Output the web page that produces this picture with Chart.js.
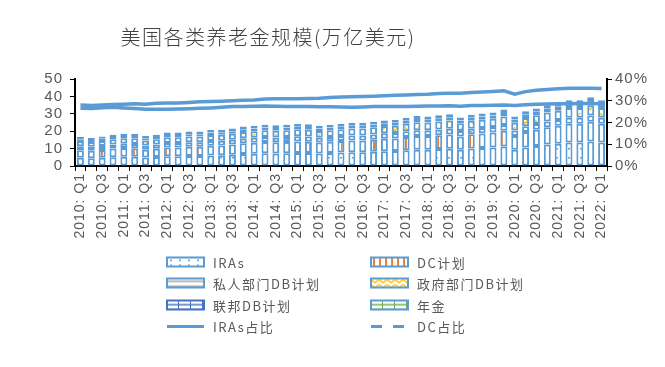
<!DOCTYPE html>
<html>
<head>
<meta charset="utf-8">
<script src="https://cdn.jsdelivr.net/npm/chart.js@4.4.1/dist/chart.umd.min.js"></script>
<style>
  body { margin: 0; background: #fff; }
  #wrap { width: 665px; height: 367px; }
</style>
</head>
<body>
<div id="wrap"><canvas id="pension" width="665" height="367"></canvas></div>
<script>
  // quarters on the x axis (every other one gets a label)
  const quarters = [
    '2010: Q1', '2010: Q2', '2010: Q3', '2010: Q4',
    '2011: Q1', '2011: Q2', '2011: Q3', '2011: Q4',
    '2012: Q1', '2012: Q2', '2012: Q3', '2012: Q4',
    '2013: Q1', '2013: Q2', '2013: Q3', '2013: Q4',
    '2014: Q1', '2014: Q2', '2014: Q3', '2014: Q4',
    '2015: Q1', '2015: Q2', '2015: Q3', '2015: Q4',
    '2016: Q1', '2016: Q2', '2016: Q3', '2016: Q4',
    '2017: Q1', '2017: Q2', '2017: Q3', '2017: Q4',
    '2018: Q1', '2018: Q2', '2018: Q3', '2018: Q4',
    '2019: Q1', '2019: Q2', '2019: Q3', '2019: Q4',
    '2020: Q1', '2020: Q2', '2020: Q3', '2020: Q4',
    '2021: Q1', '2021: Q2', '2021: Q3', '2021: Q4',
    '2022: Q1'
  ];

  // trillion USD, stacked bottom to top
  const iras = [4.7, 4.5, 4.7, 5.1, 5.3, 5.3, 4.9, 5.2, 5.6, 5.6, 5.8, 5.8, 6.1, 6.2, 6.5, 6.9,
    7.0, 7.3, 7.2, 7.3, 7.5, 7.4, 7.2, 7.5, 7.7, 7.9, 7.9, 8.2, 8.5, 8.6, 9.1, 9.4,
    9.4, 9.7, 9.9, 9.3, 10.0, 10.3, 10.6, 11.2, 9.4, 10.7, 11.5, 12.3, 12.8, 13.5, 13.5, 14.1, 13.5];
  const dcPlans = [4.4, 4.3, 4.5, 4.9, 5.0, 4.9, 4.5, 4.7, 5.0, 5.0, 5.2, 5.2, 5.5, 5.6, 5.9, 6.2,
    6.4, 6.5, 6.4, 6.5, 6.6, 6.6, 6.3, 6.4, 6.6, 6.7, 6.7, 6.9, 7.2, 7.2, 7.6, 7.9,
    7.9, 8.0, 8.2, 7.7, 8.2, 8.4, 8.6, 9.1, 7.9, 8.9, 9.4, 9.9, 10.3, 10.8, 10.8, 11.3, 10.8];
  const privateDB = [2.3, 2.2, 2.3, 2.4, 2.5, 2.5, 2.4, 2.5, 2.6, 2.6, 2.6, 2.6, 2.7, 2.7, 2.7, 2.8,
    2.8, 2.9, 2.8, 2.9, 3.0, 2.9, 2.8, 2.8, 2.9, 3.0, 3.0, 3.0, 3.1, 3.1, 3.2, 3.3,
    3.2, 3.3, 3.3, 3.1, 3.2, 3.2, 3.2, 3.3, 3.1, 3.2, 3.3, 3.4, 3.4, 3.5, 3.5, 3.6, 3.5];
  const govDB = [2.9, 2.8, 2.9, 3.0, 3.1, 3.2, 2.9, 3.0, 3.3, 3.3, 3.4, 3.4, 3.5, 3.5, 3.5, 3.7,
    3.8, 3.9, 3.9, 3.9, 4.0, 4.0, 3.8, 3.9, 3.9, 4.0, 4.0, 4.1, 4.2, 4.3, 4.4, 4.6,
    4.5, 4.6, 4.7, 4.4, 4.6, 4.7, 4.7, 4.9, 4.5, 4.8, 5.0, 5.2, 5.3, 5.6, 5.6, 5.9, 5.6];
  const federalDB = [1.1, 1.1, 1.2, 1.2, 1.3, 1.3, 1.2, 1.2, 1.3, 1.3, 1.3, 1.3, 1.4, 1.4, 1.4, 1.5,
    1.5, 1.5, 1.5, 1.5, 1.5, 1.5, 1.4, 1.5, 1.5, 1.6, 1.6, 1.6, 1.6, 1.6, 1.7, 1.8,
    1.8, 1.8, 1.9, 1.7, 1.8, 1.8, 1.9, 2.0, 1.8, 1.9, 2.0, 2.1, 2.2, 2.3, 2.3, 2.4, 2.3];
  const annuities = [1.3, 1.2, 1.3, 1.4, 1.4, 1.4, 1.3, 1.4, 1.4, 1.4, 1.5, 1.5, 1.5, 1.5, 1.5, 1.6,
    1.6, 1.6, 1.6, 1.6, 1.6, 1.6, 1.6, 1.6, 1.6, 1.6, 1.6, 1.6, 1.6, 1.7, 1.7, 1.7,
    1.7, 1.7, 1.7, 1.7, 1.7, 1.8, 1.8, 1.9, 1.8, 1.9, 1.9, 2.0, 2.0, 2.1, 2.1, 2.2, 2.1];

  // shares of total, percent (right axis)
  const iraShare = [28.0, 27.8, 28.1, 28.3, 28.4, 28.6, 28.4, 28.8, 29.0, 29.0, 29.2, 29.5, 29.7, 29.8, 30.0, 30.2,
    30.3, 30.8, 30.9, 30.9, 30.9, 31.0, 31.1, 31.5, 31.7, 31.8, 32.0, 32.1, 32.3, 32.5, 32.7, 32.9,
    33.0, 33.3, 33.4, 33.4, 33.8, 34.0, 34.3, 34.6, 33.0, 34.2, 34.8, 35.2, 35.5, 35.8, 35.8, 35.7, 35.6];
  const dcShare = [26.5, 26.4, 26.8, 27.0, 26.7, 26.4, 26.1, 26.1, 26.1, 26.2, 26.3, 26.5, 26.7, 27.0, 27.3, 27.4,
    27.5, 27.6, 27.5, 27.4, 27.3, 27.3, 27.2, 27.2, 27.1, 27.0, 27.1, 27.3, 27.3, 27.3, 27.4, 27.5,
    27.6, 27.6, 27.7, 27.5, 27.8, 27.8, 27.9, 28.0, 27.8, 28.2, 28.4, 28.5, 28.6, 28.6, 28.7, 28.7, 28.6];

  const leftTicks = [0, 10, 20, 30, 40, 50];
  const rightTicks = [0, 10, 20, 30, 40];

  const titleText = '美国各类养老金规模(万亿美元)';
  const blue = '#5b9bd5';
  const textGray = '#595959';

  const canvas = document.getElementById('pension');
  const pension = canvas.getContext('2d');

  // small tiles for the Excel-like pattern fills
  function makePattern(w, h, draw) {
    const tile = document.createElement('canvas');
    tile.width = w;
    tile.height = h;
    const g = tile.getContext('2d');
    g.fillStyle = '#fff';
    g.fillRect(0, 0, w, h);
    draw(g);
    return pension.createPattern(tile, 'repeat');
  }

  const iraFill = makePattern(12, 9, g => { g.fillStyle = blue; g.fillRect(4, 4, 2, 1.5); });
  const dcFill = makePattern(16, 6, g => { g.fillStyle = '#ed7d31'; g.fillRect(5, 0, 2, 6); });
  const privFill = makePattern(14, 8, g => { g.fillStyle = '#a5a5a5'; g.fillRect(4, 3, 6, 1.5); });
  const govFill = makePattern(13, 7, g => {
    g.strokeStyle = '#ffc000'; g.lineWidth = 1.5;
    g.beginPath(); g.moveTo(2, 1); g.lineTo(5, 4.5); g.lineTo(8, 1); g.stroke();
  });
  const fedFill = makePattern(15, 9, g => {
    g.fillStyle = '#4472c4';
    g.fillRect(6, 5, 2, 2);
  });
  const annFill = makePattern(15, 9, g => {
    g.fillStyle = '#70ad47';
    g.fillRect(5, 5, 2, 2);
  });

  function barSet(label, data, fill) {
    return {
      label: label,
      data: data,
      backgroundColor: fill,
      borderColor: blue,
      borderWidth: 2,
      borderSkipped: false,
      barPercentage: 0.64,
      categoryPercentage: 1,
      stack: 'total',
      yAxisID: 'y',
      order: 1
    };
  }

  function lineSet(label, data) {
    return {
      type: 'line',
      label: label,
      data: data,
      yAxisID: 'y1',
      borderColor: blue,
      borderWidth: 3.5,
      pointRadius: 0,
      tension: 0,
      order: 0
    };
  }

  // letter spacing like the Excel export
  const spacing = {
    id: 'spacing',
    beforeLayout(chart) { chart.ctx.letterSpacing = '1px'; },
    beforeDraw(chart) { chart.ctx.letterSpacing = '1px'; }
  };

  // title and the two-column legend
  const extras = {
    id: 'extras',
    afterDraw(chart) {
      const ctx = chart.ctx;
      ctx.save();
      ctx.letterSpacing = '1.5px';
      ctx.fillStyle = '#404040';
      ctx.font = '300 20px "Noto Sans CJK SC"';
      ctx.textAlign = 'center';
      ctx.textBaseline = 'middle';
      ctx.fillText(titleText, 268, 37);

      // legend swatch patterns for the small boxes
      const swatch = {
        2: makePattern(9, 5, g => { g.fillStyle = blue; g.fillRect(3, 2, 2, 1.5); }),
        3: makePattern(6, 5, g => { g.fillStyle = '#ed7d31'; g.fillRect(2, 0, 2, 5); }),
        4: makePattern(4, 5, g => { g.fillStyle = '#a5a5a5'; g.fillRect(0, 2, 4, 1.5); }),
        5: makePattern(8, 5, g => {
          g.strokeStyle = '#ffc000'; g.lineWidth = 1.5;
          g.beginPath(); g.moveTo(0, 1); g.lineTo(4, 4); g.lineTo(8, 1); g.stroke();
        }),
        6: makePattern(12, 5, g => { g.fillStyle = '#4472c4'; g.fillRect(0, 3.5, 12, 1.5); g.fillRect(11, 0, 1.5, 5); }),
        7: makePattern(12, 5, g => { g.fillStyle = '#70ad47'; g.fillRect(0, 3.5, 12, 1.5); g.fillRect(11, 0, 1.5, 5); })
      };

      const items = [
        { ds: 2, x: 167, y: 262 }, { ds: 3, x: 371, y: 262 },
        { ds: 4, x: 167, y: 283 }, { ds: 5, x: 371, y: 283 },
        { ds: 6, x: 167, y: 305 }, { ds: 7, x: 371, y: 305 },
        { ds: 0, x: 167, y: 326.5 }, { ds: 1, x: 371, y: 326.5, dash: [11, 11] }
      ];
      ctx.letterSpacing = '1.5px';
      ctx.font = '13px "Noto Sans CJK SC"';
      ctx.textAlign = 'left';
      items.forEach(it => {
        const ds = chart.data.datasets[it.ds];
        if (ds.type === 'line') {
          ctx.strokeStyle = blue;
          ctx.lineWidth = 3;
          ctx.setLineDash(it.dash || []);
          ctx.beginPath();
          ctx.moveTo(it.x, it.y);
          ctx.lineTo(it.x + 37, it.y);
          ctx.stroke();
          ctx.setLineDash([]);
        } else {
          ctx.save();
          ctx.translate(it.x, it.y - 4.5);
          ctx.fillStyle = swatch[it.ds];
          ctx.fillRect(0, 0, 37, 9);
          ctx.restore();
          ctx.strokeStyle = it.ds === 6 ? '#4472c4' : blue;
          ctx.lineWidth = 2;
          ctx.strokeRect(it.x, it.y - 4.5, 37, 9);
        }
        ctx.fillStyle = textGray;
        ctx.fillText(ds.label, it.x + 46, it.y + 1);
      });
      ctx.restore();
    }
  };

  const axisFont = { family: 'Liberation Sans', size: 14 };

  new Chart(pension, {
    type: 'bar',
    data: {
      labels: quarters,
      datasets: [
        lineSet('IRAs占比', iraShare),
        lineSet('DC占比', dcShare),
        barSet('IRAs', iras, iraFill),
        barSet('DC计划', dcPlans, dcFill),
        barSet('私人部门DB计划', privateDB, privFill),
        barSet('政府部门DB计划', govDB, govFill),
        barSet('联邦DB计划', federalDB, fedFill),
        barSet('年金', annuities, annFill)
      ]
    },
    options: {
      responsive: false,
      animation: false,
      layout: { padding: { top: 79, left: 0, right: 0, bottom: 0 } },
      plugins: {
        legend: { display: false },
        tooltip: { enabled: false },
        title: { display: false }
      },
      scales: {
        x: {
          stacked: true,
          grid: { drawOnChartArea: false, drawTicks: true, tickLength: 5, color: '#000', offset: true },
          border: { color: '#000', width: 2 },
          ticks: {
            autoSkip: false,
            maxRotation: 90,
            minRotation: 90,
            padding: 2,
            font: axisFont,
            color: textGray,
            callback: (v, i) => (i % 2 === 0 ? quarters[i] : '')
          },
          afterFit(scale) { scale.height = 201; }
        },
        y: {
          stacked: true,
          position: 'left',
          min: leftTicks[0],
          max: leftTicks[leftTicks.length - 1],
          grid: { drawOnChartArea: false, tickLength: 5, color: '#000' },
          border: { color: '#000', width: 2 },
          ticks: { stepSize: 10, autoSkip: false, padding: 7, font: { family: 'Liberation Sans', size: 15 }, color: textGray },
          afterFit(scale) { scale.width = 75; }
        },
        y1: {
          position: 'right',
          min: rightTicks[0],
          max: rightTicks[rightTicks.length - 1],
          grid: { drawOnChartArea: false, tickLength: 5, color: '#000' },
          border: { color: '#000', width: 2 },
          ticks: { stepSize: 10, autoSkip: false, padding: 3, font: { family: 'Liberation Sans', size: 15 }, color: textGray, callback: v => v + '%' },
          afterFit(scale) { scale.width = 58; }
        }
      }
    },
    plugins: [spacing, extras]
  });
</script>
</body>
</html>
